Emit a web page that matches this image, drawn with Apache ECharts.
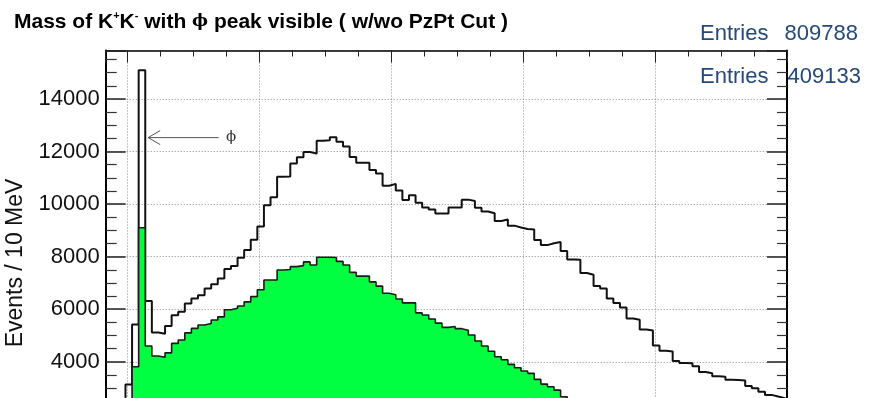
<!DOCTYPE html>
<html>
<head>
<meta charset="utf-8">
<script src="https://cdn.jsdelivr.net/npm/echarts@6/dist/echarts.min.js"></script>
<style>
  html, body { margin: 0; padding: 0; background: #fff; }
  #chart { width: 883px; height: 398px; }
</style>
</head>
<body>
<div id="chart"></div>
<script>
// Histogram binning (GeV): 10 MeV bins starting at the lower edge of the range
const X_MIN = 0.9666;
const X_MAX = 2.0;
const BIN_WIDTH = 0.01;

// K+K- invariant mass, events per bin, without the PzPt cut
const allEvents = [
  0, 0, 900, 3140, 5420, 15090, 6310, 5110, 5070, 5360,
  5775, 5900, 6220, 6410, 6535, 6790, 6950, 7170, 7530, 7640,
  7960, 8250, 8640, 9150, 9960, 10260, 11040, 11050, 11540, 11780,
  11980, 11920, 12410, 12430, 12540, 12370, 12190, 11790, 11570, 11570,
  11300, 11160, 10700, 10770, 10520, 10160, 10340, 10050, 9870, 9790,
  9640, 9640, 9870, 9870, 10170, 10120, 9860, 9720, 9650, 9360,
  9410, 9180, 9110, 9050, 9030, 8630, 8440, 8510, 8560, 8220,
  7890, 7880, 7380, 7310, 6880, 6790, 6410, 6240, 6070, 5650,
  5600, 5230, 5190, 4620, 4420, 4390, 4030, 3950, 3940, 3830,
  3610, 3560, 3450, 3430, 3320, 3310, 3290, 3080, 2990, 2860,
  2740, 2680, 2610, 2560
];

// Same spectrum with the PzPt cut applied
const cutEvents = [
  0, 0, 500, 2200, 3810, 9100, 4600, 4220, 4170, 4340,
  4700, 4830, 5100, 5270, 5400, 5460, 5590, 5710, 5980, 6040,
  6120, 6280, 6480, 6740, 7110, 7110, 7490, 7510, 7620, 7660,
  7800, 7680, 7980, 7980, 7970, 7820, 7680, 7400, 7260, 7260,
  7040, 6880, 6610, 6550, 6390, 6240, 6240, 5860, 5780, 5630,
  5470, 5310, 5340, 5260, 5200, 5020, 4790, 4600, 4400, 4190,
  4080, 3900, 3770, 3650, 3560, 3330, 3150, 3050, 2920, 2670,
  2560, 2450, 2330, 2250, 2140, 2060, 1950, 1880, 1790, 1700,
  1640, 1560, 1490, 1420, 1370, 1300, 1250, 1190, 1140, 1090,
  1050, 1000, 960, 920, 880, 850, 810, 780, 750, 720,
  690, 660, 640, 610
];

const entriesAll = 809788;
const entriesCut = 409133;

const Y_TICK_STEP = 2000;
// frame top sits 5% above the tallest bin
const Y_MAX = Math.max(...allEvents) * 1.05;

// phi annotation: [tail x, y, tip x] in data units, and label x
const phiArrow = [1.138, 12530, 1.031];
const phiLabelX = 1.157;

const FONT = "'Liberation Sans', Arial, Helvetica, sans-serif";

// Turn bin contents into step-line vertices on the bin edges
function stepPoints(counts) {
  const pts = counts.map((v, i) => [X_MIN + i * BIN_WIDTH, v]);
  pts.push([X_MIN + counts.length * BIN_WIDTH, counts[counts.length - 1]]);
  return pts;
}

const gridLine = { show: true, lineStyle: { color: '#8a8a8a', width: 1, type: [1, 2] } };

const chart = echarts.init(document.getElementById('chart'), null, { renderer: 'canvas' });

chart.setOption({
  animation: false,
  backgroundColor: '#ffffff',
  grid: {
    left: 105.7, right: 96, top: 50.5, height: 416.4,
    containLabel: false, outerBoundsMode: 'none'
  },
  title: {
    left: 9,
    top: 5,
    text: '{b|Mass of K}{s|+}{b|K}{s|-}{b| with }{p|ϕ}{b| peak visible ( w/wo PzPt Cut )}',
    textStyle: {
      rich: {
        b: { fontFamily: FONT, fontWeight: 'bold', fontSize: 21, color: '#000', lineHeight: 24 },
        s: { fontFamily: FONT, fontWeight: 'bold', fontSize: 11, color: '#000', lineHeight: 12, verticalAlign: 'top' },
        p: { fontFamily: "'DejaVu Serif', serif", fontSize: 17, color: '#000', lineHeight: 24 }
      }
    }
  },
  xAxis: [
    {
      type: 'value', position: 'bottom', min: X_MIN, max: X_MAX, splitNumber: 5,
      axisLine: { show: true, onZero: false, lineStyle: { color: '#000', width: 1.5 } },
      axisTick: { show: true, inside: true, length: 12, lineStyle: { color: '#222' } },
      minorTick: { show: true, splitNumber: 4, length: 6, lineStyle: { color: '#222' } },
      axisLabel: { show: true, fontFamily: FONT, fontSize: 20, color: '#000' },
      splitLine: gridLine
    },
    {
      type: 'value', position: 'top', min: X_MIN, max: X_MAX, splitNumber: 5,
      axisLine: { show: true, onZero: false, lineStyle: { color: '#000', width: 1.5 } },
      axisTick: { show: true, inside: true, length: 12, lineStyle: { color: '#222' } },
      minorTick: { show: true, splitNumber: 4, length: 6, lineStyle: { color: '#222' } },
      axisLabel: { show: false },
      splitLine: { show: false }
    }
  ],
  yAxis: [
    {
      type: 'value', position: 'left', min: 0, max: Y_MAX, interval: Y_TICK_STEP,
      axisLine: { show: true, onZero: false, lineStyle: { color: '#000', width: 2 } },
      axisTick: { show: true, inside: true, length: 20, lineStyle: { color: '#222', width: 1.5 } },
      minorTick: { show: true, splitNumber: 4, length: 11, lineStyle: { color: '#333', width: 1.2 } },
      axisLabel: {
        show: true, margin: 6, showMaxLabel: false,
        fontFamily: FONT, fontSize: 22, color: '#111',
        formatter: v => String(v)
      },
      splitLine: gridLine
    },
    {
      type: 'value', position: 'right', min: 0, max: Y_MAX, interval: Y_TICK_STEP,
      axisLine: { show: true, onZero: false, lineStyle: { color: '#000', width: 2 } },
      axisTick: { show: true, inside: true, length: 20, lineStyle: { color: '#222', width: 1.5 } },
      minorTick: { show: true, splitNumber: 4, length: 10, lineStyle: { color: '#333', width: 1.2 } },
      axisLabel: { show: false },
      splitLine: { show: false }
    }
  ],
  series: [
    {
      name: 'all',
      type: 'line',
      xAxisIndex: 0, yAxisIndex: 0,
      step: 'end',
      showSymbol: false, symbol: 'none',
      data: stepPoints(allEvents),
      lineStyle: { color: '#111', width: 2 },
      z: 3
    },
    {
      name: 'PzPt cut',
      type: 'line',
      xAxisIndex: 0, yAxisIndex: 0,
      step: 'end',
      showSymbol: false, symbol: 'none',
      data: stepPoints(cutEvents),
      lineStyle: { color: '#1a1a1a', width: 1.6 },
      areaStyle: { color: '#00ff40', opacity: 1 },
      z: 4
    },
    {
      name: 'phi marker',
      type: 'custom',
      xAxisIndex: 0, yAxisIndex: 0,
      clip: false,
      z: 6,
      data: [phiArrow],
      renderItem(params, api) {
        const y = api.value(1);
        const tail = api.coord([api.value(0), y]);
        const tip = api.coord([api.value(2), y]);
        const lab = api.coord([phiLabelX, y]);
        return {
          type: 'group',
          children: [
            { type: 'line', shape: { x1: tail[0], y1: tail[1], x2: tip[0], y2: tip[1] },
              style: { stroke: '#555', lineWidth: 1 } },
            { type: 'polyline',
              shape: { points: [[tip[0] + 12, tip[1] - 7], [tip[0], tip[1]], [tip[0] + 12, tip[1] + 7]] },
              style: { stroke: '#555', fill: null, lineWidth: 1 } },
            { type: 'text', x: lab[0], y: lab[1],
              style: { text: 'ϕ', fontFamily: "'DejaVu Serif', serif", fontSize: 15,
                       fill: '#333', align: 'center', verticalAlign: 'middle' } }
          ]
        };
      }
    }
  ],
  graphic: [
    { type: 'text', x: 16, y: 263, rotation: Math.PI / 2,
      style: { text: 'Events / 10 MeV', fontFamily: FONT, fontSize: 23, fill: '#111',
               align: 'center', verticalAlign: 'middle' } },
    { type: 'text', x: 700, y: 33.5,
      style: { text: 'Entries', fontFamily: FONT, fontSize: 22, fill: '#24497a', verticalAlign: 'middle' } },
    { type: 'text', x: 858, y: 33.5,
      style: { text: String(entriesAll), fontFamily: FONT, fontSize: 22, fill: '#24497a',
               align: 'right', verticalAlign: 'middle' } },
    { type: 'text', x: 700, y: 76.5,
      style: { text: 'Entries', fontFamily: FONT, fontSize: 22, fill: '#24497a', verticalAlign: 'middle' } },
    { type: 'text', x: 861, y: 76.5,
      style: { text: String(entriesCut), fontFamily: FONT, fontSize: 22, fill: '#24497a',
               align: 'right', verticalAlign: 'middle' } }
  ]
});
</script>
</body>
</html>
